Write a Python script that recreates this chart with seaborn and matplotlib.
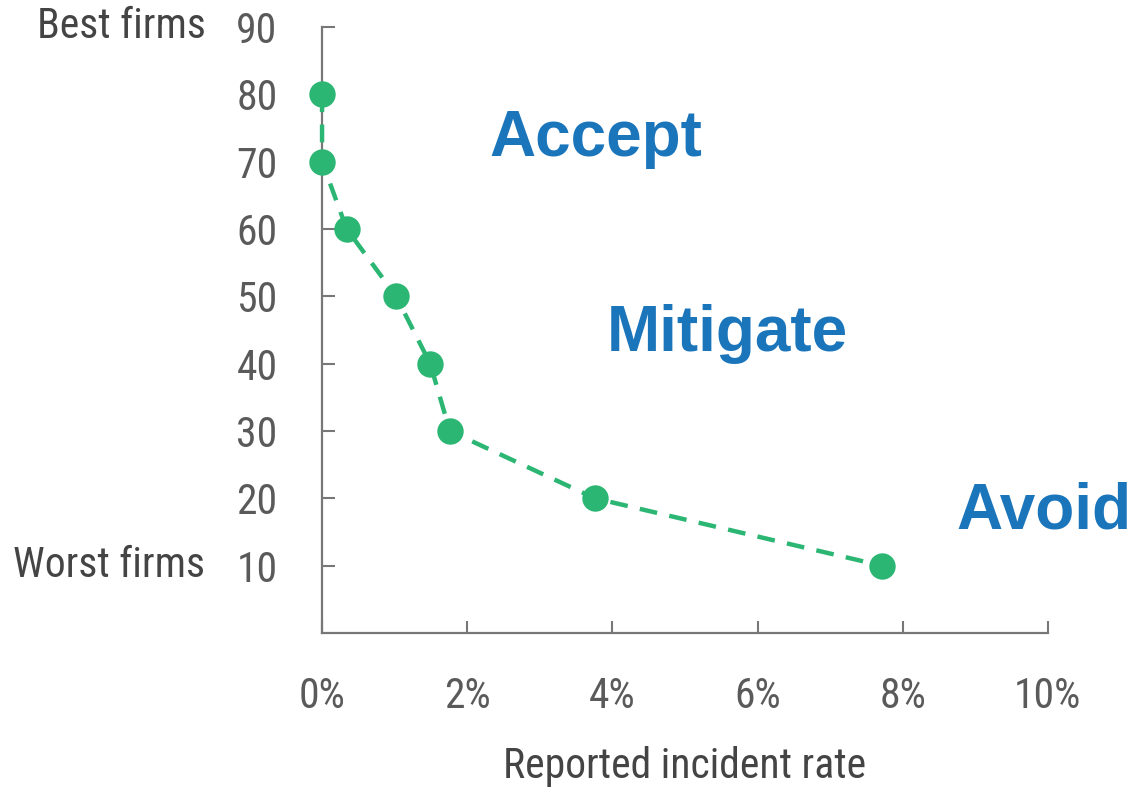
import matplotlib
matplotlib.use("Agg")
import matplotlib.pyplot as plt
import seaborn as sns
import pandas as pd
from matplotlib.ticker import FuncFormatter

# data
incident_rate = [0.0, 0.0, 0.34, 1.02, 1.49, 1.76, 3.76, 7.71]   # percent
firm_score = [80, 70, 60, 50, 40, 30, 20, 10]
x_ticks = [0, 2, 4, 6, 8, 10]
y_ticks = [10, 20, 30, 40, 50, 60, 70, 80, 90]
zone_labels = ["Accept", "Mitigate", "Avoid"]
zone_x = [2.30, 3.92, 8.74]
zone_y = [73.4, 44.4, 18.1]

sns.set_theme(style="white")
plt.rcParams['font.family'] = ['Roboto Condensed', 'DejaVu Sans']

GREEN = "#2BB673"
BLUE = "#1B75BB"
AXC = "#777777"
TXT = "#5a5a5a"
DARK = "#444444"

fig = plt.figure(figsize=(11.34, 7.87), dpi=100)
ax = fig.add_axes([0.284, 0.1957, 0.640, 0.770])

df = pd.DataFrame({"rate": incident_rate, "score": firm_score})
sns.lineplot(data=df, x="rate", y="score", ax=ax, estimator=None, sort=False,
             color=GREEN, linewidth=3.2, linestyle=(0, (4, 2.8)),
             marker="o", markersize=19, markeredgewidth=0, clip_on=False, zorder=3)

ax.set_xlim(0, 10)
ax.set_ylim(0, 90)
ax.set_xticks(x_ticks)
ax.set_yticks(y_ticks)
ax.xaxis.set_major_formatter(FuncFormatter(lambda v, p: f"{v:.0f}%"))

for s in ["top", "right"]:
    ax.spines[s].set_visible(False)
for s in ["left", "bottom"]:
    ax.spines[s].set_color(AXC)
    ax.spines[s].set_linewidth(1.6)

ax.tick_params(axis="x", bottom=True, direction="in", length=9, width=1.5, color=AXC,
               labelsize=30, labelcolor=TXT, pad=31)
ax.tick_params(axis="y", left=True, direction="in", length=9, width=1.5, color=AXC,
               labelsize=30, labelcolor=TXT, pad=32)
ax.set_xlabel("Reported incident rate", fontsize=30, color=DARK, labelpad=21)
ax.set_ylabel("")

ax.annotate("Best firms", xy=(0, 90), xycoords=("axes fraction", "data"),
            xytext=(-84, 0), textcoords="offset points", ha="right", va="center",
            fontsize=30, color=DARK, annotation_clip=False)
ax.annotate("Worst firms", xy=(0, 10), xycoords=("axes fraction", "data"),
            xytext=(-84, 0), textcoords="offset points", ha="right", va="center",
            fontsize=30, color=DARK, annotation_clip=False)

for lab, zx, zy in zip(zone_labels, zone_x, zone_y):
    ax.text(zx, zy, lab, fontsize=46, fontweight="bold", color=BLUE,
            family=["Liberation Sans", "DejaVu Sans"], ha="left", va="center",
            clip_on=False)

fig.savefig("out.png", dpi=100)
